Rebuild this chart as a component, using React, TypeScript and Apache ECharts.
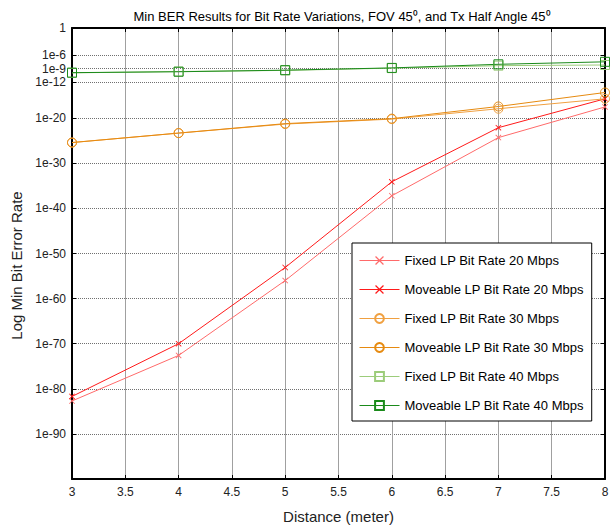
import React, { useEffect, useRef } from "react";
import * as echarts from "echarts";

// Distance (meter)
const distances = [3, 4, 5, 6, 7, 8];
// Min BER values, stored as log10(BER)
const fixed20 = [-82.7, -72.6, -56.0, -37.2, -24.3, -17.5];
const moveable20 = [-81.7, -70.0, -53.1, -34.1, -22.1, -15.7];
const fixed30 = [-25.4, -23.3, -21.3, -20.2, -17.9, -15.7];
const moveable30 = [-25.4, -23.3, -21.2, -20.1, -17.4, -14.3];
const fixed40 = [-9.95, -9.65, -9.4, -8.9, -8.35, -8.2];
const moveable40 = [-9.9, -9.7, -9.35, -8.85, -8.05, -7.5];
// y tick positions (log10 of the labelled BER)
const yTicks = [0, -6, -9, -12, -20, -30, -40, -50, -60, -70, -80, -90];

const seriesNames = [
  "Fixed LP Bit Rate 20 Mbps",
  "Moveable LP Bit Rate 20 Mbps",
  "Fixed LP Bit Rate 30 Mbps",
  "Moveable LP Bit Rate 30 Mbps",
  "Fixed LP Bit Rate 40 Mbps",
  "Moveable LP Bit Rate 40 Mbps",
];

const X_SYMBOL =
  "path://M0,1L1,0L5,4L9,0L10,1L6,5L10,9L9,10L5,6L1,10L0,9L4,5Z";

export default function App() {
  const ref = useRef<HTMLDivElement>(null);
  useEffect(() => {
    if (!ref.current) return;
    const chart = echarts.init(ref.current, undefined, { renderer: "svg" });
    const font = "Liberation Sans, Arial, sans-serif";
    const mk = (
      name: string,
      vals: number[],
      color: string,
      symbol: string,
      size: number,
      filled: boolean
    ) => ({
      name,
      type: "line",
      data: distances.map((d, i) => [d, vals[i]]),
      symbol,
      symbolSize: size,
      showSymbol: true,
      lineStyle: { color, width: 1 },
      itemStyle: filled
        ? { color, borderColor: color, borderWidth: 0 }
        : { color: "rgba(0,0,0,0)", borderColor: color, borderWidth: 1 },
      emphasis: { disabled: true },
    });
    const axisLineStyle = { color: "#000", width: 2 };
    chart.setOption({
      animation: false,
      backgroundColor: "#fff",
      textStyle: { fontFamily: font },
      title: {
        text: "Min BER Results for Bit Rate Variations, FOV 45⁰, and Tx Half Angle 45⁰",
        left: 337,
        textAlign: "center",
        top: 5,
        textStyle: { fontSize: 13, fontWeight: "normal", color: "#000", fontFamily: font },
      },
      grid: { left: 72, right: 11, top: 28, bottom: 51, containLabel: false },
      legend: {
        orient: "vertical",
        left: 352,
        top: 243,
        padding: [10, 8, 8, 7],
        itemWidth: 40,
        itemHeight: 11,
        itemGap: 14,
        backgroundColor: "#fff",
        borderColor: "#000",
        borderWidth: 1,
        borderRadius: 0,
        lineStyle: { width: 1 },
        textStyle: { fontSize: 13, color: "#000", lineHeight: 15, fontFamily: font },
        data: seriesNames,
      },
      xAxis: [
        {
          type: "value",
          min: 3,
          max: 8,
          interval: 0.5,
          name: "Distance (meter)",
          nameLocation: "middle",
          nameGap: 30,
          nameTextStyle: { fontSize: 15, color: "#222" },
          axisLine: { show: true, onZero: false, lineStyle: axisLineStyle },
          axisTick: { show: true, inside: true, length: 4, lineStyle: { color: "#000" } },
          axisLabel: { fontSize: 12, color: "#222", margin: 7 },
          splitLine: { show: true, lineStyle: { color: "#a0a0a0", width: 1 } },
        },
        {
          type: "value",
          position: "top",
          min: 3,
          max: 8,
          interval: 0.5,
          axisLine: { show: true, onZero: false, lineStyle: axisLineStyle },
          axisTick: { show: true, inside: true, length: 4, lineStyle: { color: "#000" } },
          axisLabel: { show: false },
          splitLine: { show: false },
        },
      ],
      yAxis: [
        {
          type: "value",
          min: -100,
          max: 0,
          name: "Log Min Bit Error Rate",
          nameLocation: "middle",
          nameGap: 42,
          nameTextStyle: { fontSize: 15, color: "#222", padding: [0, 24, 0, 0] },
          axisLine: { show: true, onZero: false, lineStyle: axisLineStyle },
          axisTick: {
            show: true,
            inside: true,
            length: 4,
            customValues: yTicks,
            lineStyle: { color: "#000" },
          },
          axisLabel: {
            fontSize: 12,
            color: "#222",
            margin: 6,
            customValues: yTicks,
            formatter: (v: number) => (v === 0 ? "1" : "1e" + v),
          },
          splitLine: {
            show: true,
            lineStyle: { color: "#707070", width: 1, type: [1, 1] },
          },
        },
        {
          type: "value",
          position: "right",
          min: -100,
          max: 0,
          axisLine: { show: true, onZero: false, lineStyle: axisLineStyle },
          axisTick: {
            show: true,
            inside: true,
            length: 4,
            customValues: yTicks,
            lineStyle: { color: "#000" },
          },
          axisLabel: { show: false, customValues: yTicks },
          splitLine: { show: false },
        },
      ],
      series: [
        mk(seriesNames[0], fixed20, "#ff6a6a", X_SYMBOL, 6, true),
        mk(seriesNames[1], moveable20, "#ff1a1a", X_SYMBOL, 6, true),
        mk(seriesNames[2], fixed30, "#f0a040", "circle", 9, false),
        mk(seriesNames[3], moveable30, "#e68a10", "circle", 9, false),
        mk(seriesNames[4], fixed40, "#9ccc7a", "rect", 9, false),
        mk(seriesNames[5], moveable40, "#1a8a1a", "rect", 9, false),
      ],
    });
    return () => chart.dispose();
  }, []);
  return (
    <div
      ref={ref}
      style={{ position: "fixed", left: 0, top: 0, width: 616, height: 530 }}
    />
  );
}
